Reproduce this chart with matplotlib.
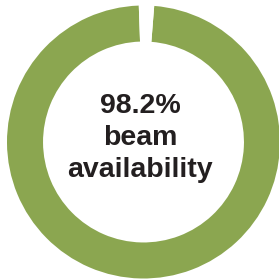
import matplotlib
matplotlib.use("Agg")
import matplotlib.pyplot as plt

labels = ["available", "down"]
values = [98.2, 1.8]
colors = ["#8ba650", "#ffffff"]
center_text = "98.2%\nbeam\navailability"


def main():
	fig = plt.figure(figsize=(2.79, 2.79), dpi=100)
	fig.patch.set_facecolor("white")
	# axes placed so the ring sits a bit off-center like the original
	ax = fig.add_axes([7 / 279, 0.5 / 279, 273 / 279, 273 / 279])
	ax.pie(values, colors=colors, startangle=85.5, counterclock=False,
		radius=1.0, wedgeprops=dict(width=0.264, edgecolor="none", linewidth=0))
	ax.set_xlim(-1, 1)
	ax.set_ylim(-1, 1)
	ax.set_aspect("equal")
	ax.axis("off")

	ax.text(-0.026, 0.03, center_text, ha="center", va="center", multialignment="center",
		fontsize=20.5, fontweight="bold", family="Liberation Sans", color="#231f20",
		linespacing=1.3)

	fig.savefig("out.png", dpi=100, facecolor="white")

if __name__ == "__main__":
	main()
